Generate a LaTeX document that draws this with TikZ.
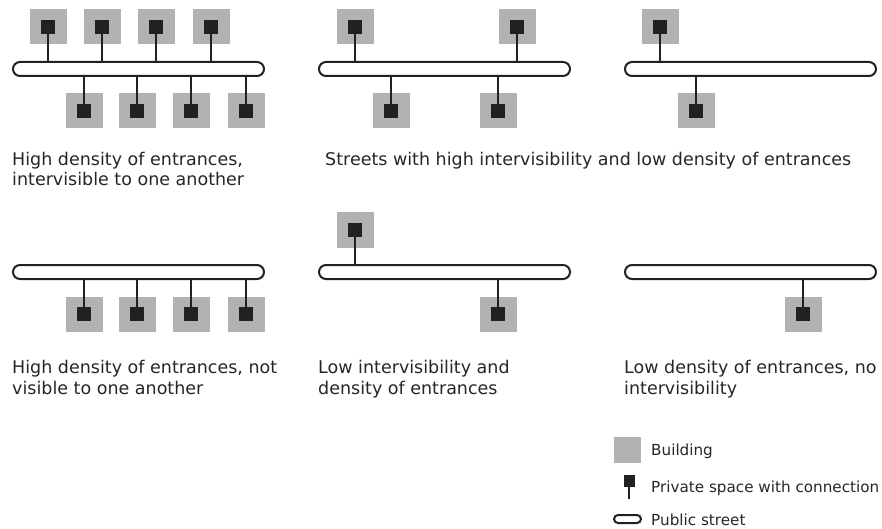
\documentclass[tikz,border=0pt]{standalone}
\usepackage{fontspec}
\setmainfont{DejaVu Sans}

\begin{document}
\begin{tikzpicture}[x=1pt,y=-1pt,
	street/.style={draw=black!87,line width=2pt,fill=white,rounded corners=7pt,minimum width=251pt,minimum height=14pt,inner sep=0pt},
	building/.style={fill=black!30,minimum width=37pt,minimum height=35pt,inner sep=0pt},
	entrance/.style={fill=black!87,minimum size=14pt,inner sep=0pt},
	link/.style={draw=black!87,line width=2pt},
	caption/.style={anchor=base west,inner sep=0pt,align=left,text=black!85,font=\fontsize{17.5}{20.5}\selectfont},
	legend/.style={anchor=base west,inner sep=0pt,text=black!85,font=\fontsize{15.2}{18}\selectfont}]
	\useasboundingbox (0,0) rectangle (882,529);
	
	% top row
	\node[street] (s1) at (138.5,69) {};
	\node[street] (s2) at (444.5,69) {};
	\node[street] (s3) at (750.5,69) {};
	
	\foreach \x [count=\i] in {48,102,156,211} {
		\node[building] (a\i) at (\x,27) {};
		\node[entrance] (ae\i) at (a\i) {};
		\draw[link] (ae\i.south) -- (ae\i.south |- s1.north);
	}
	\foreach \x [count=\i] in {84,137,191,246} {
		\node[building] (b\i) at (\x,111) {};
		\node[entrance] (be\i) at (b\i) {};
		\draw[link] (be\i.north) -- (be\i.north |- s1.south);
	}
	
	\foreach \x [count=\i] in {355,517} {
		\node[building] (c\i) at (\x,27) {};
		\node[entrance] (ce\i) at (c\i) {};
		\draw[link] (ce\i.south) -- (ce\i.south |- s2.north);
	}
	\foreach \x [count=\i] in {391,498} {
		\node[building] (d\i) at (\x,111) {};
		\node[entrance] (de\i) at (d\i) {};
		\draw[link] (de\i.north) -- (de\i.north |- s2.south);
	}
	
	\node[building] (e1) at (660,27) {};
	\node[entrance] (ee1) at (e1) {};
	\draw[link] (ee1.south) -- (ee1.south |- s3.north);
	\node[building] (f1) at (696,111) {};
	\node[entrance] (fe1) at (f1) {};
	\draw[link] (fe1.north) -- (fe1.north |- s3.south);
	
	\node[caption] (t1) at (12,186) {High density of entrances,\\intervisible to one another};
	\node[caption] (t2) at (325,166) {Streets with high intervisibility and low density of entrances};
	
	% bottom row
	\node[street] (s4) at (138.5,272) {};
	\node[street] (s5) at (444.5,272) {};
	\node[street] (s6) at (750.5,272) {};
	
	\foreach \x [count=\i] in {84,137,191,246} {
		\node[building] (g\i) at (\x,314) {};
		\node[entrance] (ge\i) at (g\i) {};
		\draw[link] (ge\i.north) -- (ge\i.north |- s4.south);
	}
	
	\node[building] (h1) at (355,230) {};
	\node[entrance] (he1) at (h1) {};
	\draw[link] (he1.south) -- (he1.south |- s5.north);
	\node[building] (h2) at (498,314) {};
	\node[entrance] (he2) at (h2) {};
	\draw[link] (he2.north) -- (he2.north |- s5.south);
	
	\node[building] (k1) at (803,314) {};
	\node[entrance] (ke1) at (k1) {};
	\draw[link] (ke1.north) -- (ke1.north |- s6.south);
	
	\node[caption] (t4) at (12,394) {High density of entrances, not\\visible to one another};
	\node[caption] (t5) at (318,394) {Low intervisibility and\\density of entrances};
	\node[caption] (t6) at (624,394) {Low density of entrances, no\\intervisibility};
	
	% legend
	\node[building,minimum width=27pt,minimum height=26pt] (lb) at (627.5,450) {};
	\node[entrance,minimum width=11pt,minimum height=12pt] (le) at (629,481) {};
	\coordinate (lt) at (629,499);
	\draw[link] (le.south) -- (lt);
	\node[street,minimum width=27pt,minimum height=8pt,rounded corners=4pt] (ls) at (627.5,519) {};
	
	\node[legend] (l1) at (651,455) {Building};
	\node[legend] (l2) at (651,492) {Private space with connection};
	\node[legend] (l3) at (651,525) {Public street};
\end{tikzpicture}
\end{document}
